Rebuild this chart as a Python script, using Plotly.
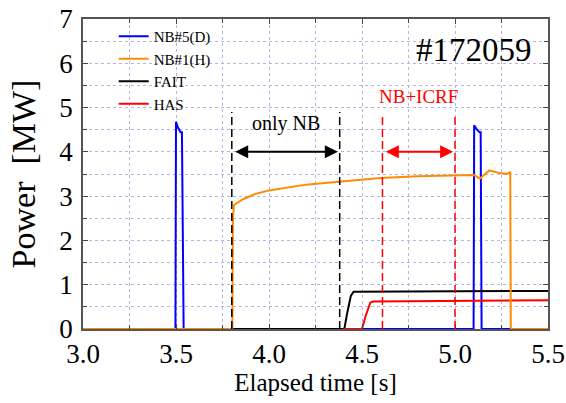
import plotly.graph_objects as go

# NB#5(D) - blue
nb5_t = [3.0, 3.497, 3.500, 3.510, 3.525, 3.532, 3.541, 5.100, 5.103, 5.115, 5.132, 5.138, 5.143, 5.5]
nb5_p = [0, 0, 4.68, 4.55, 4.44, 4.44, 0, 0, 4.60, 4.52, 4.44, 4.44, 0, 0]
# NB#1(H) - orange
nb1_t = [3.0, 3.803, 3.806, 3.812, 3.86, 3.92, 4.0, 4.1, 4.2, 4.33, 4.45, 4.6, 4.8, 5.0, 5.1, 5.134, 5.185, 5.24, 5.28, 5.297, 5.300, 5.5]
nb1_p = [0, 0, 2.5, 2.8, 2.93, 3.04, 3.13, 3.2, 3.26, 3.31, 3.36, 3.41, 3.45, 3.48, 3.48, 3.40, 3.58, 3.52, 3.50, 3.55, 0, 0]
# FAIT - black
fait_t = [3.0, 4.405, 4.42, 4.44, 4.455, 5.0, 5.5]
fait_p = [0, 0, 0.35, 0.75, 0.84, 0.85, 0.86]
# HAS - red
has_t = [4.40, 4.50, 4.52, 4.545, 4.56, 5.0, 5.5]
has_p = [0, 0, 0.30, 0.60, 0.62, 0.63, 0.65]

only_nb = (3.80, 4.38)
icrf = (4.61, 5.00)
arrow_y = 4.0

FONT = "Liberation Serif"

fig = go.Figure()
fig.add_trace(go.Scatter(x=nb5_t, y=nb5_p, mode="lines", name="NB#5(D)",
                         line=dict(color="#0000ff", width=2), legendrank=1))
fig.add_trace(go.Scatter(x=fait_t, y=fait_p, mode="lines", name="FAIT",
                         line=dict(color="#000000", width=2), legendrank=3))
fig.add_trace(go.Scatter(x=has_t, y=has_p, mode="lines", name="HAS",
                         line=dict(color="#ff0000", width=2), legendrank=4))
fig.add_trace(go.Scatter(x=nb1_t, y=nb1_p, mode="lines", name="NB#1(H)",
                         line=dict(color="#ff8c00", width=2), legendrank=2))

# vertical dashed markers
for xv in only_nb:
    fig.add_shape(type="line", x0=xv, x1=xv, y0=0, y1=4.9, xref="x", yref="y",
                  line=dict(color="black", width=1.5, dash="8px,4px"))
for xv in icrf:
    fig.add_shape(type="line", x0=xv, x1=xv, y0=0, y1=4.8, xref="x", yref="y",
                  line=dict(color="red", width=1.5, dash="8px,4px"))

# double arrows
def darrow(x0, x1, y, color):
    fig.add_annotation(x=x1, y=y, ax=x0, ay=y, xref="x", yref="y", axref="x", ayref="y",
                       showarrow=True, arrowhead=2, arrowside="end+start", arrowsize=1.3,
                       arrowwidth=2, arrowcolor=color, text="")

darrow(only_nb[0] + 0.01, only_nb[1] - 0.01, arrow_y, "black")
darrow(icrf[0] + 0.01, icrf[1] - 0.01, arrow_y, "red")

fig.add_annotation(x=(only_nb[0] + only_nb[1]) / 2, y=4.63, text="only NB", showarrow=False,
                   font=dict(family=FONT, size=20, color="black"))
fig.add_annotation(x=(icrf[0] + icrf[1]) / 2, y=5.24, text="NB+ICRF", showarrow=False,
                   font=dict(family=FONT, size=19, color="red"))
fig.add_annotation(x=0.970, y=6.3, xref="paper", yref="y", xanchor="right", text="#172059",
                   showarrow=False, font=dict(family=FONT, size=33, color="black"))

grid = dict(showgrid=True, gridcolor="#b4b4e6", griddash="dot", gridwidth=1)
minor_grid = dict(showgrid=True, gridcolor="#b4b4e6", griddash="dot", gridwidth=1)
fig.update_xaxes(range=[3.0, 5.5], dtick=0.5, tickformat=".1f", ticks="inside", ticklen=5,
                 mirror="allticks", showline=True, linecolor="#555", linewidth=1.5,
                 automargin=False, ticklabeloverflow="allow",
                 tickfont=dict(family=FONT, size=27, color="black"),
                 title=dict(text="Elapsed time [s]", font=dict(family=FONT, size=25, color="black"), standoff=2),
                 minor=dict(dtick=0.25, ticks="inside", ticklen=4, **minor_grid),
                 zeroline=False, **grid)
fig.update_yaxes(range=[0, 7], dtick=1, ticks="inside", ticklen=5,
                 mirror="allticks", showline=True, linecolor="#555", linewidth=1.5,
                 automargin=False, ticklabeloverflow="allow",
                 tickfont=dict(family=FONT, size=27, color="black"), ticklabelstandoff=3,
                 title=dict(text="Power  [MW]", font=dict(family=FONT, size=34, color="black"), standoff=13),
                 minor=dict(dtick=0.5, ticks="inside", ticklen=4, **minor_grid),
                 zeroline=False, **grid)

fig.update_layout(width=566, height=403, margin=dict(l=83, r=18, t=19, b=74),
                  plot_bgcolor="white", paper_bgcolor="white",
                  legend=dict(x=0.066, y=0.997, xanchor="left", yanchor="top", bgcolor="rgba(0,0,0,0)",
                              font=dict(family=FONT, size=15, color="black"), tracegroupgap=0,
                              itemwidth=30),
                  font=dict(family=FONT))

fig.write_html("out.html", config={"displayModeBar": False},
               post_script="document.body.style.margin='0';document.body.style.overflow='hidden';")
